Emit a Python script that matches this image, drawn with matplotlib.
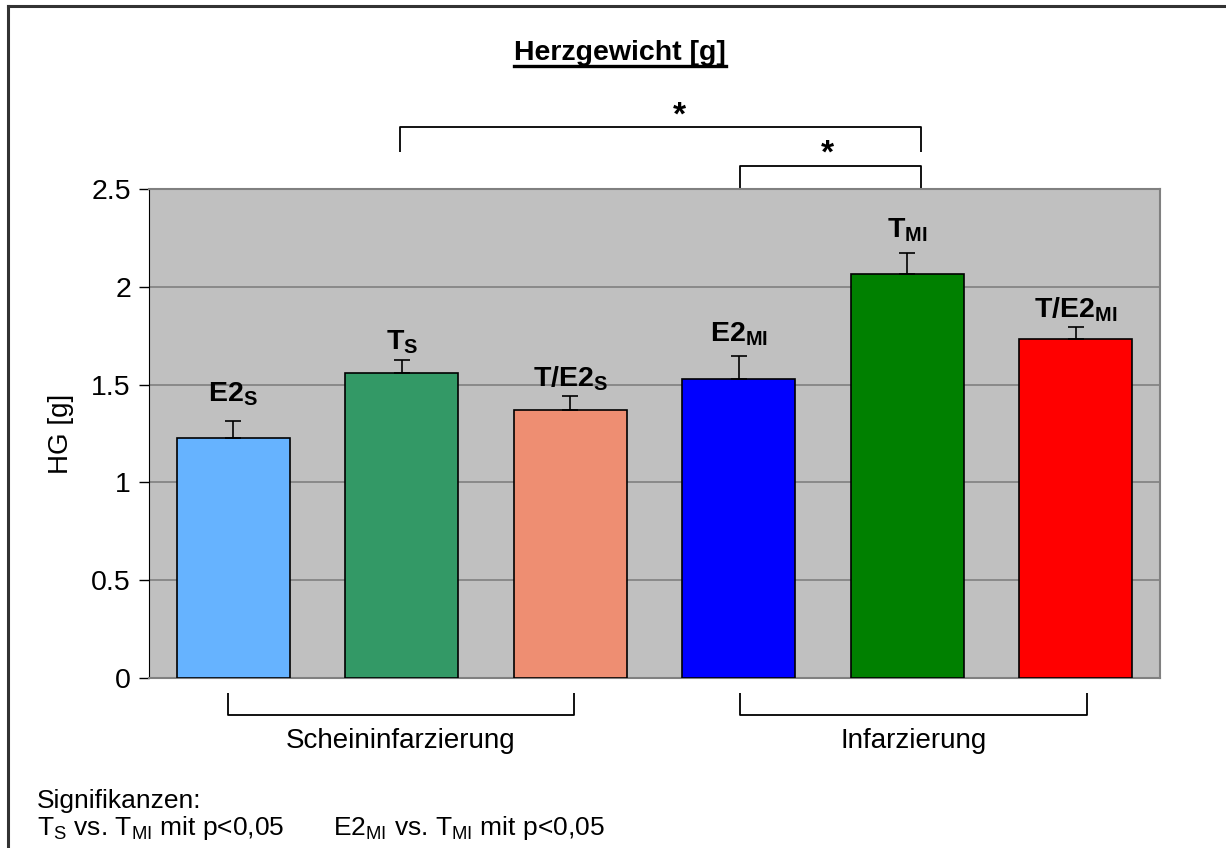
"""Herzgewicht bar chart (HG in g) with sham/infarct groups and significance brackets."""
import matplotlib
matplotlib.use("Agg")
import matplotlib.pyplot as plt
from matplotlib.lines import Line2D

# data
groups = ["E2_S", "T_S", "T/E2_S", "E2_MI", "T_MI", "T/E2_MI"]
labels = [r"E2$_\mathbf{S}$", r"T$_\mathbf{S}$", r"T/E2$_\mathbf{S}$",
          r"E2$_\mathbf{MI}$", r"T$_\mathbf{MI}$", r"T/E2$_\mathbf{MI}$"]
hg_mean = [1.225, 1.558, 1.370, 1.529, 2.065, 1.733]
hg_sem = [0.089, 0.068, 0.072, 0.119, 0.109, 0.060]
colors = ["#66B3FF", "#339966", "#EE8E72", "#0000FF", "#008000", "#FF0000"]

# label gap above each error bar (points), placed by hand in the original
label_gap = [13.7, 7.2, 6.5, 10.1, 10.8, 7.2]

plt.rcParams.update({
    "font.family": ["Liberation Sans", "DejaVu Sans"],
    "font.size": 20,
    "mathtext.fontset": "custom",
    "mathtext.rm": "Liberation Sans",
    "mathtext.it": "Liberation Sans:italic",
    "mathtext.bf": "Liberation Sans:bold",
})

fig = plt.figure(figsize=(12.26, 8.48), dpi=100)
ax = fig.add_axes([0.1215, 0.2005, 0.8246, 0.5767])
ax.set_facecolor("#C0C0C0")

x = list(range(len(groups)))
ax.bar(x, hg_mean, width=0.67, color=colors, edgecolor="black",
       linewidth=1.2, zorder=3)
ax.errorbar(x, hg_mean, yerr=[[0] * len(x), hg_sem], fmt="none",
            ecolor="black", elinewidth=1.2, capsize=5.5, capthick=1.2,
            zorder=4)

for xi, m, e, lab, g in zip(x, hg_mean, hg_sem, labels, label_gap):
    ax.annotate(lab, (xi, m + e), textcoords="offset points", xytext=(0, g),
                ha="center", va="baseline", fontsize=20.5, fontweight="bold")

ax.set_xlim(-0.5, 5.5)
ax.set_ylim(0, 2.5)
ax.set_yticks([0, 0.5, 1, 1.5, 2, 2.5])
ax.set_yticklabels(["0", "0.5", "1", "1.5", "2", "2.5"])
ax.set_xticks([])
ax.tick_params(axis="y", direction="out", length=7, width=1, pad=6,
               labelsize=20.5)
ax.yaxis.grid(True, color="#808080", linewidth=1.2)
ax.set_axisbelow(True)
for side in ["top", "right", "bottom"]:
    ax.spines[side].set_color("#808080")
    ax.spines[side].set_linewidth(1.5)
ax.spines["left"].set_color("black")
ax.set_ylabel("HG [g]", fontsize=20, labelpad=12)

# significance brackets
kw = dict(color="black", lw=1.3, clip_on=False, solid_capstyle="butt")
ax.plot([0.99, 0.99, 4.08, 4.08], [2.69, 2.817, 2.817, 2.69], **kw)
ax.plot([3.01, 3.01, 4.08, 4.08], [2.5, 2.618, 2.618, 2.5], **kw)
ax.text(2.65, 2.795, "*", ha="center", va="bottom", fontsize=24,
        fontweight="bold")
ax.text(3.524, 2.598, "*", ha="center", va="bottom", fontsize=24,
        fontweight="bold")

# group brackets below axis
ax.plot([-0.03, -0.03, 2.02, 2.02], [-0.077, -0.189, -0.189, -0.077], **kw)
ax.plot([3.01, 3.01, 5.07, 5.07], [-0.077, -0.189, -0.189, -0.077], **kw)
ax.text(0.995, -0.255, "Scheininfarzierung", ha="center", va="top",
        fontsize=20)
ax.text(4.04, -0.255, "Infarzierung", ha="center", va="top", fontsize=20)

# title with underline
title = fig.text(0.506, 0.929, "Herzgewicht [g]", ha="center",
                 va="baseline", fontsize=20.5, fontweight="bold")
fig.canvas.draw()
bb = title.get_window_extent().transformed(fig.transFigure.inverted())
fig.add_artist(Line2D([bb.x0, bb.x1], [0.9225, 0.9225], color="black",
                      lw=2.4, transform=fig.transFigure))

# footnote
fig.text(0.030, 0.0475, "Signifikanzen:", fontsize=19, va="baseline")
fig.text(0.030, 0.0150, r"T$_\mathrm{S}$ vs. T$_\mathrm{MI}$ mit p<0,05",
         fontsize=19, va="baseline")
fig.text(0.2715, 0.0150, r"E2$_\mathrm{MI}$ vs. T$_\mathrm{MI}$ mit p<0,05",
         fontsize=19, va="baseline")

# outer frame (left and top edges visible)
fig.add_artist(Line2D([0.0068, 0.0068], [0.0, 0.993], color="#333333",
                      lw=2.2, transform=fig.transFigure))
fig.add_artist(Line2D([0.0068, 1.0], [0.993, 0.993], color="#333333",
                      lw=2.2, transform=fig.transFigure))

fig.savefig("out.png", dpi=100)
